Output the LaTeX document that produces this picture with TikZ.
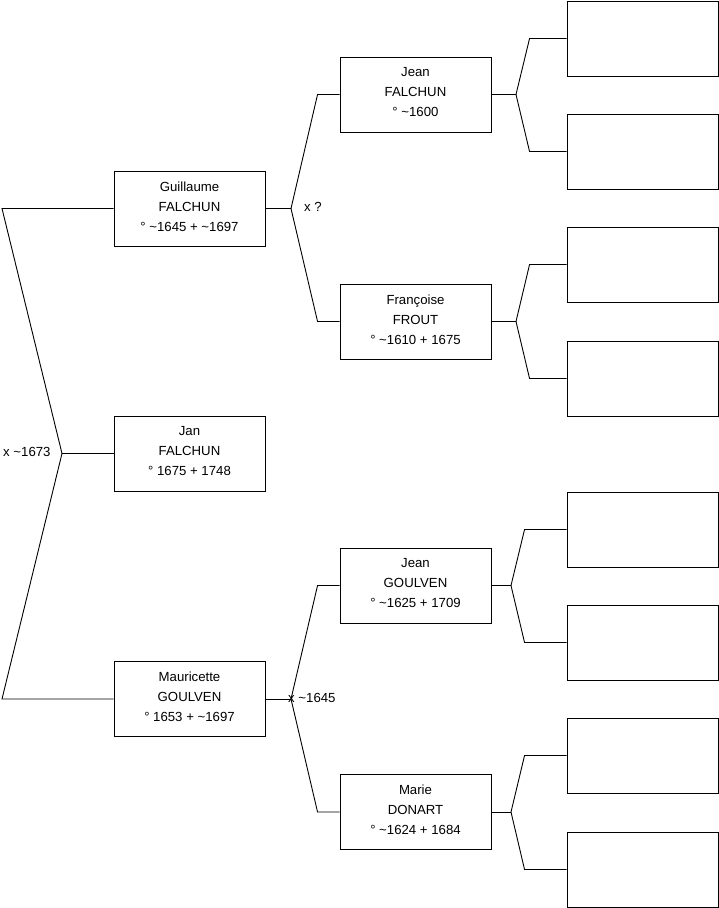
\documentclass[tikz,border=0pt]{standalone}
\usepackage{fontspec}
\setmainfont{Liberation Sans}
\usetikzlibrary{calc}
\begin{document}
\begin{tikzpicture}[x=1pt,y=-1pt,
  person/.style={draw=black,line width=0.9pt,minimum width=151pt,minimum height=75pt,inner sep=0pt},
  txt/.style={align=center,font=\fontsize{13.2}{20}\selectfont,inner sep=0pt,yshift=2pt},
  lbl/.style={font=\fontsize{13.2}{15}\selectfont,inner sep=0pt},
  link/.style={draw=black,line width=0.9pt}]
\useasboundingbox (0,0) rectangle (719,908);
% generation 1
\node[person,label={[txt]center:{Jan\\FALCHUN\\° 1675 + 1748}}] (jan) at (189.5,453.5) {};
% generation 2
\node[person,label={[txt]center:{Guillaume\\FALCHUN\\° \textasciitilde1645 + \textasciitilde1697}}] (gui) at (189.5,208.5) {};
\node[person,label={[txt]center:{Mauricette\\GOULVEN\\° 1653 + \textasciitilde1697}}] (mau) at (189.5,699) {};
% generation 3
\node[person,label={[txt]center:{Jean\\FALCHUN\\° \textasciitilde1600}}] (jf) at (415.5,94.5) {};
\node[person,label={[txt]center:{Françoise\\FROUT\\° \textasciitilde1610 + 1675}}] (fr) at (415.5,321.5) {};
\node[person,label={[txt]center:{Jean\\GOULVEN\\° \textasciitilde1625 + 1709}}] (jg) at (415.5,585.5) {};
\node[person,label={[txt]center:{Marie\\DONART\\° \textasciitilde1624 + 1684}}] (ma) at (415.5,812) {};
% generation 4
\node[person] (r1) at (642.5,38.5) {};
\node[person] (r2) at (642.5,151.5) {};
\node[person] (r3) at (642.5,264.5) {};
\node[person] (r4) at (642.5,378.5) {};
\node[person] (r5) at (642.5,529.5) {};
\node[person] (r6) at (642.5,642.5) {};
\node[person] (r7) at (642.5,755.5) {};
\node[person] (r8) at (642.5,869.5) {};
% junctions
\coordinate (j0) at (62,453.5);
\coordinate (g0) at (2,208.5);
\coordinate (m0) at (2,699);
\coordinate (j1) at (291,208.5);
\coordinate (j2) at (291,699);
\coordinate (j3) at (516,94.5);
\coordinate (j4) at (516,321.5);
\coordinate (j5) at (511,585.5);
\coordinate (j6) at (511,812);
% connectors
\draw[link] (gui.west) -- (g0) -- (j0) -- (m0) -- (mau.west);
\draw[link] (j0) -- (jan.west);
\draw[link] (gui.east) -- (j1);
\draw[link] (jf.west) -- ++(-22,0) -- (j1) -- ($(fr.west)+(-22,0)$) -- (fr.west);
\draw[link] (mau.east) -- (j2);
\draw[link] (jg.west) -- ++(-22,0) -- (j2) -- ($(ma.west)+(-22,0)$) -- (ma.west);
\draw[link] (jf.east) -- (j3);
\draw[link] (r1.west) -- ++(-37,0) -- (j3) -- ($(r2.west)+(-37,0)$) -- (r2.west);
\draw[link] (fr.east) -- (j4);
\draw[link] (r3.west) -- ++(-37,0) -- (j4) -- ($(r4.west)+(-37,0)$) -- (r4.west);
\draw[link] (jg.east) -- (j5);
\draw[link] (r5.west) -- ++(-42,0) -- (j5) -- ($(r6.west)+(-42,0)$) -- (r6.west);
\draw[link] (ma.east) -- (j6);
\draw[link] (r7.west) -- ++(-42,0) -- (j6) -- ($(r8.west)+(-42,0)$) -- (r8.west);
% marriage labels
\node[lbl,anchor=west] (l0) at (3,452) {x \textasciitilde1673};
\node[lbl,anchor=west] (l1) at (304,207) {x ?};
\node[lbl,anchor=west] (l2) at (288,698) {x \textasciitilde1645};
\end{tikzpicture}
\end{document}
